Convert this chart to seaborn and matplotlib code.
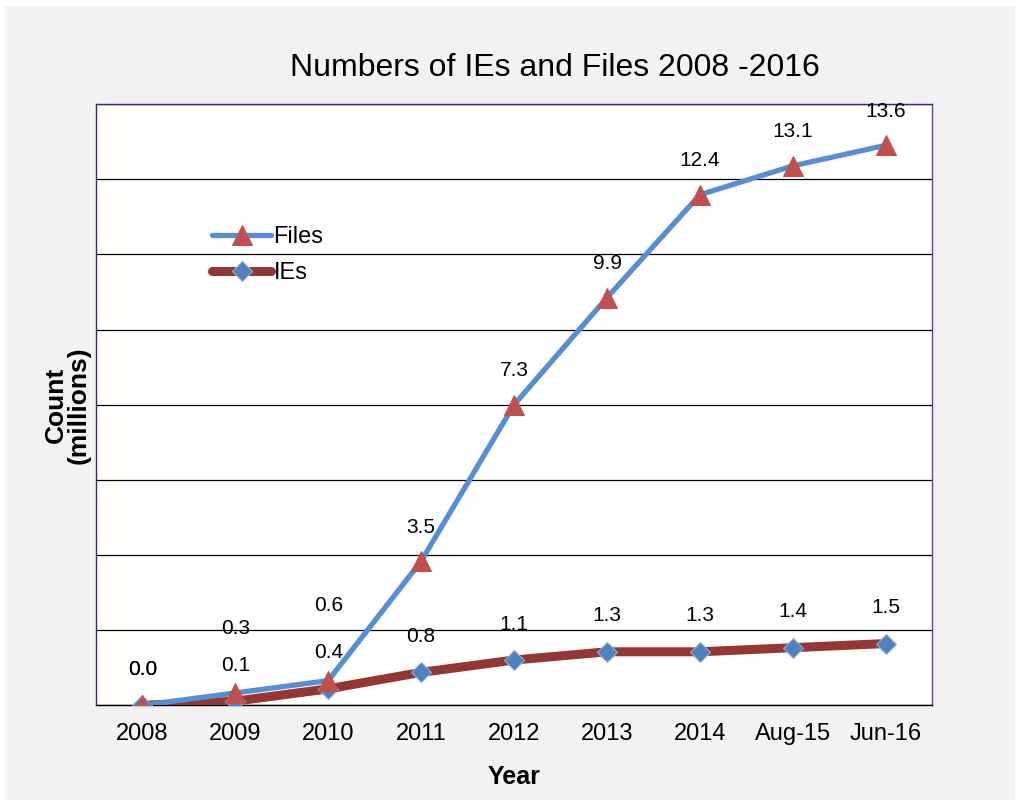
import numpy as np
import pandas as pd
import matplotlib
matplotlib.use("Agg")
import matplotlib.pyplot as plt
import matplotlib.patches as patches
import seaborn as sns

# data (millions)
years = ["2008", "2009", "2010", "2011", "2012", "2013", "2014", "Aug-15", "Jun-16"]
files = [0.0, 0.3, 0.6, 3.5, 7.3, 9.9, 12.4, 13.1, 13.6]
ies = [0.0, 0.1, 0.4, 0.8, 1.1, 1.3, 1.3, 1.4, 1.5]

df = pd.DataFrame({"Year": years, "Files": files, "IEs": ies})
df["pos"] = np.arange(len(df))

sns.set_style("white")
plt.rcParams["font.family"] = ["Liberation Sans", "DejaVu Sans"]
plt.rcParams["text.color"] = "black"
plt.rcParams["axes.labelcolor"] = "black"
plt.rcParams["xtick.color"] = "black"

fig = plt.figure(figsize=(10.2, 8.07), dpi=100)
fig.patch.set_facecolor("white")
fig.patches.append(patches.Rectangle((0.005, 0.009), 0.99, 0.983, transform=fig.transFigure,
                                     facecolor="#f2f2f2", edgecolor="none", zorder=-10))
ax = fig.add_axes([0.094, 0.126, 0.82, 0.745])
ax.set_facecolor("white")

# IEs first so Files sits on top
sns.lineplot(data=df, x="pos", y="IEs", ax=ax, color="#943634", lw=6.5, marker="D",
             markersize=10, markerfacecolor="#4f81bd", markeredgecolor="#8fb0d8",
             markeredgewidth=0.8, label="IEs", zorder=3)
sns.lineplot(data=df, x="pos", y="Files", ax=ax, color="#558ed5", lw=3.8, marker="^",
             markersize=14, markerfacecolor="#c0504d", markeredgecolor="#c0504d",
             label="Files", zorder=4)

ymax = 14.6
ax.set_ylim(0, ymax)
ax.set_xlim(-0.5, len(years) - 0.5)
ax.set_yticks(np.linspace(0, ymax, 9))
ax.set_yticklabels([])
ax.grid(axis="y", color="black", lw=0.9)
ax.set_axisbelow(True)
ax.tick_params(axis="y", length=0)

ax.set_xticks(df["pos"])
ax.set_xticklabels(years, fontsize=17, color="black")
ax.set_xticks(np.arange(-0.5, len(years)), minor=True)
ax.tick_params(axis="x", which="major", length=0, pad=13)
ax.tick_params(axis="x", which="minor", length=6, color="#555555", width=1, direction="out")

# data labels
files_off = [36, 64, 75, 34, 34, 34, 34, 34, 34]
for i, v in enumerate(files):
    ax.annotate(f"{v:.1f}", (i, v), xytext=(0, files_off[i]), textcoords="offset pixels",
                ha="center", va="center", fontsize=15, color="black")
for i, v in enumerate(ies):
    ax.annotate(f"{v:.1f}", (i, v), xytext=(0, 36), textcoords="offset pixels",
                ha="center", va="center", fontsize=15, color="black")

for side, col in [("left", "#2b2b8f"), ("top", "#2b2b8f"), ("right", "#4a4ad0"), ("bottom", "black")]:
    ax.spines[side].set_visible(True)
    ax.spines[side].set_color(col)
    ax.spines[side].set_linewidth(1)

ax.set_title("Numbers of IEs and Files 2008 -2016", fontsize=23, pad=20, x=0.549, color="black")
ax.set_xlabel("Year", fontsize=18, fontweight="bold", labelpad=14)
ax.set_ylabel("Count\n(millions)", fontsize=19, fontweight="bold", labelpad=0, linespacing=0.95)

handles, labels = ax.get_legend_handles_labels()
order = [labels.index("Files"), labels.index("IEs")]
leg = ax.legend([handles[k] for k in order], [labels[k] for k in order], loc="center left",
                bbox_to_anchor=(0.139, 0.749), frameon=False, fontsize=17, handlelength=2.5,
                handletextpad=0.1, labelspacing=0.6, borderpad=0, borderaxespad=0)
for t in leg.get_texts():
    t.set_color("black")

fig.savefig("out.png", dpi=100, facecolor=fig.get_facecolor())
